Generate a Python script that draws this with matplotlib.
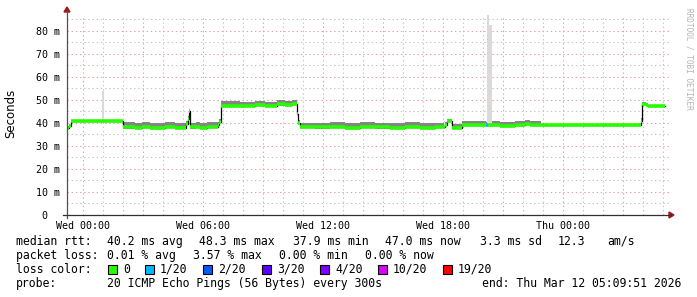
import numpy as np
import matplotlib
matplotlib.use("Agg")
import matplotlib.pyplot as plt
from matplotlib.lines import Line2D
from matplotlib.patches import Polygon, Rectangle

plt.rcParams['lines.scale_dashes'] = False

# step points: hours relative to Wed 00:00, median rtt (ms), smoke low/high (ms), lost pings
step_h = [-0.80, -0.70, -0.60, 2.00, 2.60, 2.95, 3.35, 4.10, 4.60, 5.15, 5.25, 5.30, 5.35,
          5.65, 5.85, 6.20, 6.75, 6.80, 6.90, 7.85, 8.60, 9.10, 9.70, 10.10, 10.45, 10.70,
          10.75, 10.85, 11.60, 12.35, 13.10, 13.85, 14.60, 15.35, 16.10, 16.85, 17.60, 18.00,
          18.10, 18.20, 18.45, 18.95, 19.60, 20.15, 20.25, 20.85, 21.60, 22.10, 22.35, 22.90,
          27.90, 27.95, 28.15, 28.25, 29.10]
median = [37.8, 38.6, 40.8, 38.0, 37.8, 38.3, 37.9, 38.2, 37.8, 39.5, 41.5, 45.0, 38.0,
          38.4, 37.8, 38.1, 39.0, 40.5, 47.5, 47.3, 47.6, 47.3, 48.0, 47.7, 48.2, 44.0,
          40.0, 38.2, 38.0, 38.4, 37.9, 38.3, 38.0, 37.8, 38.3, 37.9, 38.2, 38.0,
          39.2, 40.8, 37.8, 39.0, 39.2, 38.9, 39.1, 38.8, 39.2, 39.6, 39.0, 38.9,
          41.0, 48.0, 47.6, 47.1, 47.1]
smoke_lo = [37.5, 38.3, 40.6, 37.5, 37.5, 37.8, 37.5, 37.7, 37.5, 39.0, 41.0, 44.5, 37.5,
            37.8, 37.5, 37.7, 38.6, 40.2, 47.0, 46.9, 47.1, 46.9, 47.4, 47.2, 47.6, 43.5,
            39.6, 37.7, 37.5, 37.9, 37.5, 37.8, 37.5, 37.4, 37.8, 37.5, 37.7, 37.6,
            38.8, 40.5, 37.4, 38.5, 38.7, 38.5, 38.7, 38.4, 38.7, 39.1, 38.6, 38.7,
            40.7, 47.7, 47.3, 46.9, 46.9]
smoke_hi = [38.6, 39.4, 41.4, 40.4, 40.1, 40.4, 40.1, 40.3, 40.1, 40.9, 42.8, 46.6, 40.0,
            40.3, 40.0, 40.2, 40.2, 41.5, 49.3, 49.1, 49.3, 49.1, 49.7, 49.4, 49.8, 45.6,
            41.3, 40.0, 39.9, 40.3, 39.9, 40.2, 39.9, 39.8, 40.2, 39.9, 40.1, 40.1,
            40.4, 41.8, 39.7, 40.6, 40.8, 40.5, 40.7, 40.5, 40.9, 41.2, 40.6, 39.5,
            41.9, 49.0, 48.4, 47.7, 47.7]
loss = [0] * 43 + [1] + [0] * 11

# single tall smoke spikes (start h, end h, bottom ms, top ms)
spike_h0 = [0.95, 2.00, 5.30, 10.70, 18.05, 20.18, 20.30]
spike_h1 = [1.05, 2.05, 5.35, 10.75, 18.10, 20.30, 20.43]
spike_lo = [40.8, 38.0, 45.0, 44.0, 38.0, 39.0, 39.0]
spike_hi = [53.7, 42.0, 46.4, 46.0, 40.6, 86.8, 82.6]

loss_labels = ['0', '1/20', '2/20', '3/20', '4/20', '10/20', '19/20']
loss_colors = ['#26ff00', '#00b8ff', '#0059ff', '#5e00ff', '#7e00ff', '#dd00ff', '#ff0000']
loss_x = [108, 145, 203, 262, 320, 378, 443]

W, H = 697, 297
fig = plt.figure(figsize=(W / 100, H / 100), dpi=100)
ax = fig.add_axes([67 / W, 82 / H, 602 / W, 200 / H])
ax.set_xlim(-0.8, 29.3)
ax.set_ylim(0, 86.8)

# grid
dots = (0, (1.0, 2.0))
ax.set_xticks(np.arange(0, 30, 1), minor=True)
ax.set_yticks(np.arange(0, 90, 10))
ax.set_yticks(np.arange(5, 90, 10), minor=True)
ax.set_yticklabels(['0  '] + ['%d m' % v for v in range(10, 90, 10)])
ax.set_xticks([0, 3, 6, 9, 12, 15, 18, 21, 24, 27])
ax.set_xticklabels(['Wed 00:00', '', 'Wed 06:00', '', 'Wed 12:00', '', 'Wed 18:00', '',
                    'Thu 00:00', ''])
ax.grid(which='minor', color='#c4c4c4', linestyle=dots, linewidth=0.75)
ax.grid(which='major', color='#eba0a0', linestyle=dots, linewidth=0.75)
ax.set_axisbelow(True)
for lab in ax.get_xticklabels() + ax.get_yticklabels():
    lab.set_family('DejaVu Sans Mono')
    lab.set_fontsize(7.2)
ax.tick_params(which='both', length=0, pad=4)
ax.tick_params(axis='y', pad=5)
for s in ax.spines.values():
    s.set_visible(False)

# smoke
ax.fill_between(step_h, smoke_lo, smoke_hi, step='post', color='#858585', linewidth=0)
for a, b, lo, hi in zip(spike_h0, spike_h1, spike_lo, spike_hi):
    ax.fill_between([a, b], [lo, lo], [hi, hi], color='#dadada', linewidth=0)

# median line: black transitions, loss-coloured levels
ax.step(step_h, median, where='post', color='black', linewidth=0.9)
for i in range(len(step_h) - 1):
    ax.hlines(median[i], step_h[i], step_h[i + 1], color=loss_colors[loss[i]],
              linewidth=2.6, zorder=3)

# axes lines and arrows (figure pixels)
def fx(x):
    return x / W

def fy(y):
    return (H - y) / H

fig.add_artist(Line2D([fx(67), fx(67)], [fy(218), fy(10)], color='#505050', linewidth=0.9))
fig.add_artist(Line2D([fx(63), fx(671)], [fy(215), fy(215)], color='#303030', linewidth=0.9))
fig.add_artist(Polygon([[fx(64), fy(12)], [fx(70), fy(12)], [fx(67), fy(7)]],
                       closed=True, color='#a01818', transform=fig.transFigure))
fig.add_artist(Polygon([[fx(669), fy(212)], [fx(669), fy(218)], [fx(674), fy(215)]],
                       closed=True, color='#a01818', transform=fig.transFigure))

fig.text(fx(11), fy(113), 'Seconds', rotation=90, ha='center', va='center',
         fontsize=8.5, family='DejaVu Sans')
fig.text(fx(689), fy(59), 'RRDTOOL / TOBI OETIKER', rotation=270, ha='center', va='center',
         fontsize=5.6, family='DejaVu Sans Mono', color='#b4b4b4')

# legend
mono = dict(family='DejaVu Sans Mono', fontsize=8.3, va='center', ha='left')
row1 = [(16, 'median rtt:'), (107, '40.2 ms avg'), (199, '48.3 ms max'), (293, '37.9 ms min'),
        (385, '47.0 ms now'), (480, '3.3 ms sd'), (558, '12.3'), (607, 'am/s')]
row2 = [(16, 'packet loss:'), (107, '0.01 % avg'), (193, '3.57 % max'), (279, '0.00 % min'),
        (365, '0.00 % now')]
row4 = [(16, 'probe:'), (107, '20 ICMP Echo Pings (56 Bytes) every 300s')]
for y, row in [(241.5, row1), (255.5, row2), (283.5, row4)]:
    for x, t in row:
        fig.text(fx(x), fy(y), t, **mono)
end_style = dict(mono, ha='right')
fig.text(fx(681), fy(283.5), 'end: Thu Mar 12 05:09:51 2026', **end_style)
fig.text(fx(16), fy(269.5), 'loss color:', **mono)
for x, lab, col in zip(loss_x, loss_labels, loss_colors):
    fig.add_artist(Rectangle((fx(x), fy(274)), 9 / W, 9 / H, facecolor=col, edgecolor='black',
                             linewidth=0.8, transform=fig.transFigure))
    fig.text(fx(x + 15), fy(269.5), lab, **mono)

fig.savefig('out.png', dpi=100, facecolor='white')
